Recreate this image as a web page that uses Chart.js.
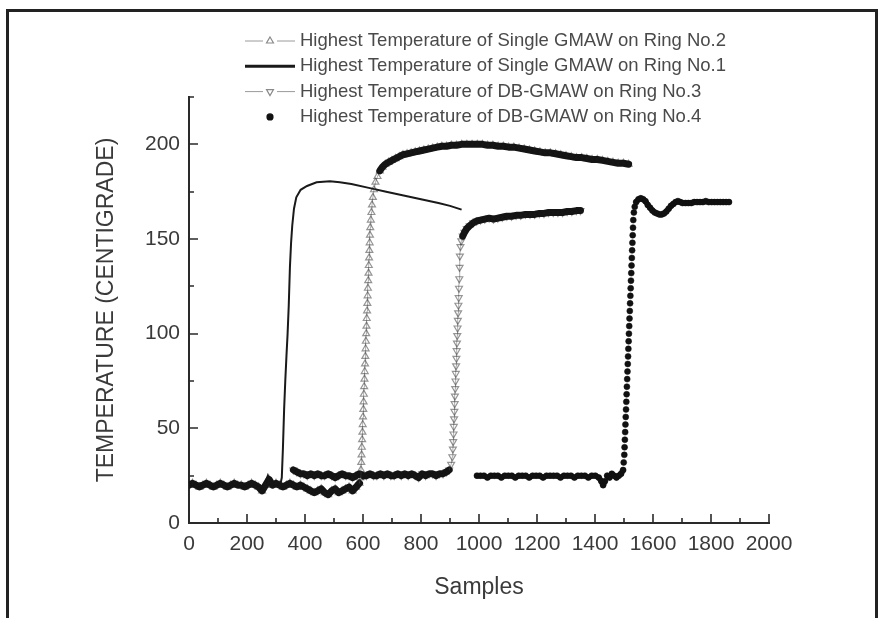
<!DOCTYPE html>
<html>
<head>
<meta charset="utf-8">
<title>Highest Temperature</title>
<script src="https://cdn.jsdelivr.net/npm/chart.js@4.4.1/dist/chart.umd.min.js"></script>
<style>
  html, body { margin: 0; padding: 0; background: #fff; }
  #wrap { position: relative; width: 889px; height: 618px; overflow: hidden; }
  #frame { position: absolute; left: 6px; top: 9px; width: 866px; height: 700px; border: 3px solid #222; border-bottom: none; pointer-events: none; }
  canvas { position: absolute; left: 0; top: 0; }
</style>
</head>
<body>
<div id="wrap">
  <canvas id="tempChart" width="889" height="618"></canvas>
  <div id="frame"></div>
</div>
<script>
// Series names (legend order)
const seriesNames = [
    "Highest Temperature of Single GMAW on Ring No.2",
    "Highest Temperature of Single GMAW on Ring No.1",
    "Highest Temperature of DB-GMAW on Ring No.3",
    "Highest Temperature of DB-GMAW on Ring No.4"
];

// Axis ticks
const xTickValues = [0, 200, 400, 600, 800, 1000, 1200, 1400, 1600, 1800, 2000];
const yTickValues = [0, 50, 100, 150, 200];
const xTitle = "Samples";
const yTitle = "TEMPERATURE (CENTIGRADE)";

// Ring No.2 - single GMAW (open triangles)
const ring2X = [0, 12, 24, 36, 48, 60, 72, 84, 96, 108, 120, 132, 144, 156, 168, 180, 192, 204, 216, 228, 240, 252, 264, 276, 288, 300, 312, 324, 336, 348, 360, 372, 384, 396, 408, 420, 432, 444, 456, 468, 480, 492, 504, 516, 528, 540, 552, 564, 576,
    588, 591, 593, 594, 595, 596, 597, 598, 599, 600, 601, 602, 603, 604, 605, 606, 607, 608, 609, 610, 611, 612, 613, 614, 615, 616, 617, 618, 619, 620, 621, 622, 623, 624, 625, 627, 629, 631, 634, 638, 643, 650, 658, 667,
    677, 688, 700, 712, 725, 738, 752, 766, 780, 795, 810, 825, 840, 856, 872, 888, 905, 922, 940, 958, 976, 994, 1012, 1030, 1048, 1066, 1084, 1102, 1120, 1138, 1156, 1174, 1192, 1210, 1228, 1246, 1264, 1282, 1300, 1318, 1336, 1354, 1372, 1390, 1408, 1426, 1444, 1462, 1480, 1498, 1516];
const ring2Y = [20, 21, 20, 19, 20, 21, 20, 19, 20, 21, 20, 19, 20, 21, 20, 20, 19, 20, 21, 20, 19, 17, 20, 23, 20, 21, 20, 19, 20, 21, 20, 19, 20, 19, 18, 17, 16, 17, 18, 16, 15, 17, 18, 16, 17, 18, 19, 17, 19,
    21, 24, 28, 32, 36, 40, 44, 48, 52, 56, 60, 64, 68, 72, 76, 80, 84, 88, 92, 96, 100, 104, 108, 112, 116, 120, 124, 128, 132, 136, 140, 144, 148, 152, 156, 160, 164, 168, 172, 176, 180, 183, 186, 188,
    189.5, 190.5, 191.5, 192.5, 193.5, 194.5, 195, 195.5, 196, 196.5, 197, 197.5, 198, 198.5, 199, 199, 199.5, 199.5, 200, 200, 200, 200, 200, 199.5, 199.5, 199, 199, 198.5, 198.5, 198, 197.5, 197, 196.5, 196, 195.5, 195.5, 195, 194.5, 194, 193.5, 193, 193, 192.5, 192, 192, 191.5, 191, 190.5, 190, 190, 189.5];

// Ring No.1 - single GMAW (solid line)
const ring1X = [0, 40, 80, 120, 160, 200, 240, 252, 262, 272, 282, 300, 316, 320, 324, 328, 332, 336, 340, 344, 348, 352, 356, 362, 370, 385, 407, 440, 486, 520, 560, 620, 680, 740, 800, 860, 900, 940];
const ring1Y = [20, 21, 20, 21, 20, 21, 20, 17, 21, 25, 21, 21, 21, 24, 40, 60, 75, 88, 100, 115, 135, 148, 157, 166, 172, 176, 178, 180, 180.5, 180, 179, 177, 175, 173, 171, 169, 167.5, 165.5];

// Ring No.3 - DB-GMAW (open down triangles)
const ring3X = [360, 372, 384, 396, 408, 420, 432, 444, 456, 468, 480, 492, 504, 516, 528, 540, 552, 564, 576, 588, 600, 612, 624, 636, 648, 660, 672, 684, 696, 708, 720, 732, 744, 756, 768, 780, 792, 804, 816, 828, 840, 852, 864, 876, 888,
    897, 904, 908, 910, 911, 912, 913, 914, 915, 916, 917, 918, 919, 920, 921, 922, 923, 924, 925, 926, 927, 928, 929, 930, 931, 932, 933, 934, 936, 939, 944, 950, 958, 968, 980, 992, 1005,
    1020, 1035, 1050, 1065, 1080, 1096, 1112, 1128, 1144, 1160, 1176, 1192, 1208, 1224, 1240, 1256, 1272, 1288, 1304, 1320, 1336, 1350];
const ring3Y = [28, 27, 26, 26, 25, 26, 25, 26, 25, 25, 26, 25, 24, 25, 26, 25, 25, 24, 25, 26, 25, 25, 26, 25, 25, 26, 25, 26, 25, 25, 26, 25, 26, 25, 26, 25, 24, 26, 25, 26, 26, 25, 26, 26, 27,
    28, 31, 35, 39, 43, 47, 51, 55, 59, 63, 67, 71, 75, 79, 83, 87, 91, 95, 99, 103, 107, 111, 115, 119, 124, 129, 135, 141, 146, 149, 151.5, 153.5, 155.5, 157, 158.5, 159.5, 160,
    160.5, 161, 160.5, 161, 161.5, 162, 162, 162.5, 162.5, 163, 163, 163, 163.5, 163.5, 164, 164, 164, 164, 164.5, 164.5, 165, 165];

// Ring No.4 - DB-GMAW (filled dots)
const ring4X = [993, 1005, 1017, 1029, 1041, 1053, 1065, 1077, 1089, 1101, 1113, 1125, 1137, 1149, 1161, 1173, 1185, 1197, 1209, 1221, 1233, 1245, 1257, 1269, 1281, 1293, 1305, 1317, 1329, 1341, 1353, 1365, 1377, 1389, 1401, 1413, 1422, 1428, 1434, 1442, 1450, 1458, 1466, 1474, 1482, 1490,
    1497, 1499, 1501, 1502, 1503, 1504, 1505, 1506, 1507, 1508, 1509, 1510, 1511, 1512, 1513, 1514, 1515, 1516, 1517, 1518, 1519, 1520, 1521, 1522, 1523, 1524, 1525, 1526, 1527, 1528, 1529, 1530, 1531, 1532, 1534, 1537, 1542,
    1550, 1558, 1566, 1574, 1582, 1590, 1598, 1606, 1614, 1622, 1630, 1638, 1646, 1654, 1662, 1670, 1678, 1686, 1694, 1702, 1712, 1722, 1732, 1742, 1752, 1762, 1772, 1782, 1792, 1802, 1812, 1822, 1832, 1842, 1852, 1862];
const ring4Y = [25, 25, 25, 24, 25, 25, 25, 24, 25, 25, 25, 24, 25, 25, 25, 24, 25, 25, 25, 24, 25, 25, 25, 25, 24, 25, 25, 25, 24, 25, 25, 25, 24, 25, 25, 24, 22, 20, 22, 25, 24, 26, 25, 24, 25, 26,
    28, 32, 36, 40, 44, 48, 52, 56, 60, 64, 68, 72, 76, 80, 84, 88, 92, 96, 100, 104, 108, 112, 116, 120, 124, 128, 132, 136, 140, 144, 148, 152, 156, 160, 164, 167, 169.5,
    171, 171.5, 171, 170, 168, 166.5, 165, 164, 163.5, 163, 163, 163.5, 164.5, 166, 167.5, 168.5, 169.5, 170, 169.5, 169, 169, 169, 169, 169.5, 169.5, 169.5, 169.5, 170, 169.5, 169.5, 169.5, 169.5, 169.5, 169.5, 169.5, 169.5];

const FONT = "'Liberation Sans', Arial, sans-serif";

function toPoints(xs, ys) {
    return xs.map((x, i) => ({ x: x, y: ys[i] }));
}

// Dense samples merge into a dark band where the curve is flat; steep parts stay as separate symbols
function isSteep(c) {
    const dx = Math.abs(c.p1.x - c.p0.x) || 0.01;
    return Math.abs(c.p1.y - c.p0.y) / dx > 2.2;
}
function bandSegment(thick, thinColor) {
    return {
        borderWidth: c => isSteep(c) ? (thinColor ? 1 : 0) : thick,
        borderColor: c => isSteep(c) ? (thinColor || "rgba(0,0,0,0)") : "#161616"
    };
}

// Inward tick marks (major + minor) drawn from the scales
const innerTicks = {
    id: "innerTicks",
    afterDraw(chart) {
        const ctx = chart.ctx;
        const xs = chart.scales.x, ys = chart.scales.y;
        const a = chart.chartArea;
        const xStep = xTickValues[1] - xTickValues[0];
        const yStep = yTickValues[1] - yTickValues[0];
        ctx.save();
        ctx.strokeStyle = "#2a2a2a";
        ctx.lineWidth = 1.6;
        ctx.beginPath();
        for (let v = xs.min; v <= xs.max + 0.001; v += xStep / 2) {
            const px = Math.round(xs.getPixelForValue(v));
            const len = (v % xStep === 0) ? 9 : 5;
            ctx.moveTo(px, a.bottom);
            ctx.lineTo(px, a.bottom - len);
        }
        for (let v = ys.min; v <= ys.max + 0.001; v += yStep / 2) {
            const py = Math.round(ys.getPixelForValue(v));
            const len = (v % yStep === 0) ? 9 : 5;
            ctx.moveTo(a.left, py);
            ctx.lineTo(a.left + len, py);
        }
        ctx.stroke();
        ctx.restore();
    }
};

// Legend rows in the upper middle
const rowLegend = {
    id: "rowLegend",
    afterDraw(chart) {
        const ctx = chart.ctx;
        const x0 = 245, x1 = 295, xm = 270, textX = 300;
        ctx.save();
        chart.data.datasets.forEach((ds, i) => {
            const y = 41 + i * 25.3;
            if (ds.legendLine) {
                ctx.strokeStyle = ds.legendLine;
                ctx.lineWidth = ds.legendLineWidth || 1;
                ctx.beginPath();
                ctx.moveTo(x0, y);
                ctx.lineTo(x1, y);
                ctx.stroke();
            }
            if (ds.pointRadius > 0) {
                ctx.fillStyle = "#fff";
                if (ds.legendLine) ctx.fillRect(xm - 7, y - 6, 14, 12);
                ctx.strokeStyle = ds.legendPoint || ds.pointBorderColor;
                ctx.fillStyle = ds.pointBackgroundColor;
                ctx.lineWidth = 1.2;
                Chart.helpers.drawPoint(ctx, {
                    pointStyle: ds.pointStyle,
                    rotation: ds.pointRotation || 0,
                    radius: ds.pointRadius,
                    borderWidth: 1.2
                }, xm, y);
            }
            ctx.fillStyle = "#4a4a4a";
            ctx.font = "18.5px " + FONT;
            ctx.textBaseline = "middle";
            ctx.textAlign = "left";
            ctx.fillText(ds.label, textX, y);
        });
        ctx.restore();
    }
};

const ctx = document.getElementById("tempChart").getContext("2d");
const chart = new Chart(ctx, {
    type: "scatter",
    data: {
        datasets: [
            {
                label: seriesNames[0],
                data: toPoints(ring2X, ring2Y),
                showLine: true,
                borderWidth: 1,
                borderJoinStyle: "round",
                borderCapStyle: "round",
                segment: bandSegment(7, "rgba(90,90,90,0.5)"),
                pointStyle: "triangle",
                pointRadius: 4,
                pointBorderWidth: 1.2,
                pointBorderColor: "rgba(20,20,20,0.45)",
                pointBackgroundColor: "rgba(0,0,0,0)",
                legendLine: "#9a9a9a",
                legendPoint: "#8a8a8a"
            },
            {
                label: seriesNames[1],
                data: toPoints(ring1X, ring1Y),
                showLine: true,
                borderColor: "#1a1a1a",
                borderWidth: 2,
                pointRadius: 0,
                legendLine: "#1a1a1a",
                legendLineWidth: 3
            },
            {
                label: seriesNames[2],
                data: toPoints(ring3X, ring3Y),
                showLine: true,
                borderWidth: 1,
                borderJoinStyle: "round",
                borderCapStyle: "round",
                segment: bandSegment(7, "rgba(90,90,90,0.5)"),
                pointStyle: "triangle",
                pointRotation: 180,
                pointRadius: 4,
                pointBorderWidth: 1.2,
                pointBorderColor: "rgba(20,20,20,0.45)",
                pointBackgroundColor: "rgba(0,0,0,0)",
                legendLine: "#9a9a9a",
                legendPoint: "#8a8a8a"
            },
            {
                label: seriesNames[3],
                data: toPoints(ring4X, ring4Y),
                showLine: true,
                borderWidth: 1,
                borderJoinStyle: "round",
                borderCapStyle: "round",
                segment: bandSegment(5.5, null),
                pointStyle: "circle",
                pointRadius: 3,
                pointBorderWidth: 0.5,
                pointBorderColor: "#111",
                pointBackgroundColor: "#111"
            }
        ]
    },
    options: {
        responsive: false,
        animation: false,
        devicePixelRatio: 1,
        layout: { padding: { left: 0, top: 97, right: 120, bottom: 0 } },
        plugins: {
            legend: { display: false },
            tooltip: { enabled: false }
        },
        scales: {
            x: {
                type: "linear",
                min: 0,
                max: 2000,
                afterBuildTicks: s => { s.ticks = xTickValues.map(v => ({ value: v })); },
                afterFit: s => { s.height = 95; },
                grid: { display: false, drawTicks: false },
                border: { display: true, color: "#2a2a2a", width: 2 },
                ticks: { padding: 9, color: "#3a3a3a", font: { family: FONT, size: 21 }, maxRotation: 0, autoSkip: false, callback: v => String(v) },
                title: { display: true, text: xTitle, color: "#3a3a3a", font: { family: FONT, size: 23 }, padding: { top: 0, bottom: 17 } }
            },
            y: {
                type: "linear",
                min: 0,
                max: 225,
                afterBuildTicks: s => { s.ticks = yTickValues.map(v => ({ value: v })); },
                afterFit: s => { s.width = 189; },
                grid: { display: false, drawTicks: false },
                border: { display: true, color: "#2a2a2a", width: 2 },
                ticks: { padding: 9, color: "#3a3a3a", font: { family: FONT, size: 21 }, callback: v => String(v) },
                title: { display: true, text: yTitle, color: "#3a3a3a", font: { family: FONT, size: 23 }, padding: { top: 93, bottom: 0 } }
            }
        }
    },
    plugins: [innerTicks, rowLegend]
});
</script>
</body>
</html>
